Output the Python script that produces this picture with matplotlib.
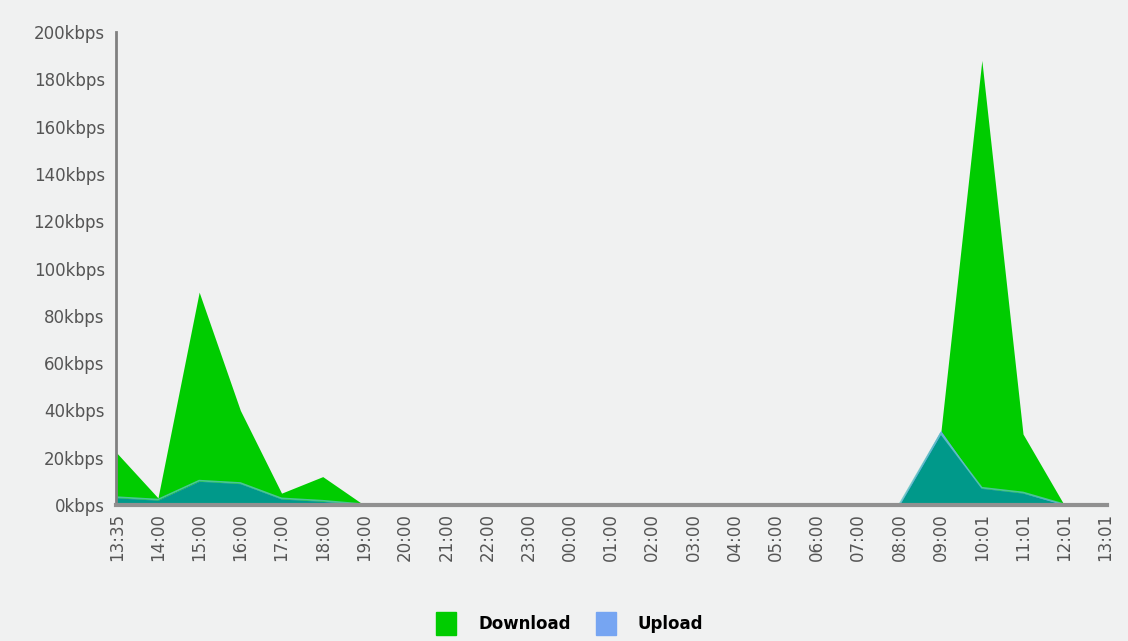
import numpy as np
import matplotlib.pyplot as plt
from matplotlib.patches import Patch

# time labels along the x axis
hours = ['13:35', '14:00', '15:00', '16:00', '17:00', '18:00', '19:00', '20:00',
         '21:00', '22:00', '23:00', '00:00', '01:00', '02:00', '03:00', '04:00',
         '05:00', '06:00', '07:00', '08:00', '09:00', '10:01', '11:01', '12:01', '13:01']

# traffic in kbps
download = [22, 3, 90, 40, 5, 12, 0, 0, 0, 0, 0, 0, 0, 0, 0, 0,
            0, 0, 0, 0, 30, 188, 30, 0, 0]
upload = [3, 2, 10, 9, 2.5, 1.5, 0.5, 0.5, 0.5, 0.5, 0.5, 0.5, 0.5, 0.5, 0.5, 0.5,
          0.5, 0.5, 0.5, 0.5, 31.5, 7, 5, 0.5, 0.5]

bg = '#f0f1f1'
green = '#00cc00'
blue = '#6f9ff5'
teal = '#00998a'

x = np.arange(len(hours))
d = np.array(download)
u = np.array(upload)

fig = plt.figure(figsize=(11.28, 6.41), dpi=100, facecolor=bg)
ax = fig.add_axes([0.1028, 0.2122, 0.879, 0.7378], facecolor=bg)

ax.fill_between(x, 0, d, color=green, lw=0)
ax.fill_between(x, 0, u, color=blue, lw=0)
# overlap of the two series shows as teal
ax.fill_between(x, 0, np.minimum(d, u), color=teal, lw=0)
ax.plot(x, np.minimum(d, u) + 0.3, color='#5cc4bc', lw=1.2, alpha=0.8)

ax.set_xlim(-0.02, 24.05)
ax.set_ylim(0, 200)
yt = np.arange(0, 201, 20)
ax.set_yticks(yt)
ax.set_yticklabels(['%dkbps' % v for v in yt], fontsize=12, color='#555555')
ax.set_xticks(x)
ax.set_xticklabels(hours, rotation=90, fontsize=12, color='#555555')
ax.tick_params(length=0, pad=8)
ax.tick_params(axis='x', pad=6)

for s in ['top', 'right']:
    ax.spines[s].set_visible(False)
ax.spines['left'].set_color('#808080')
ax.spines['left'].set_linewidth(2)
ax.spines['bottom'].set_color('#909090')
ax.spines['bottom'].set_linewidth(3)

handles = [Patch(color=green, label='Download'), Patch(color='#76a5f2', label='Upload')]
fig.legend(handles=handles, loc='center', bbox_to_anchor=(0.505, 0.027), ncol=2,
           frameon=False, prop={'weight': 'bold', 'size': 12},
           handlelength=1.2, handleheight=1.8, handletextpad=1.3, columnspacing=1.5)

fig.savefig('out.png', dpi=100, facecolor=bg)
